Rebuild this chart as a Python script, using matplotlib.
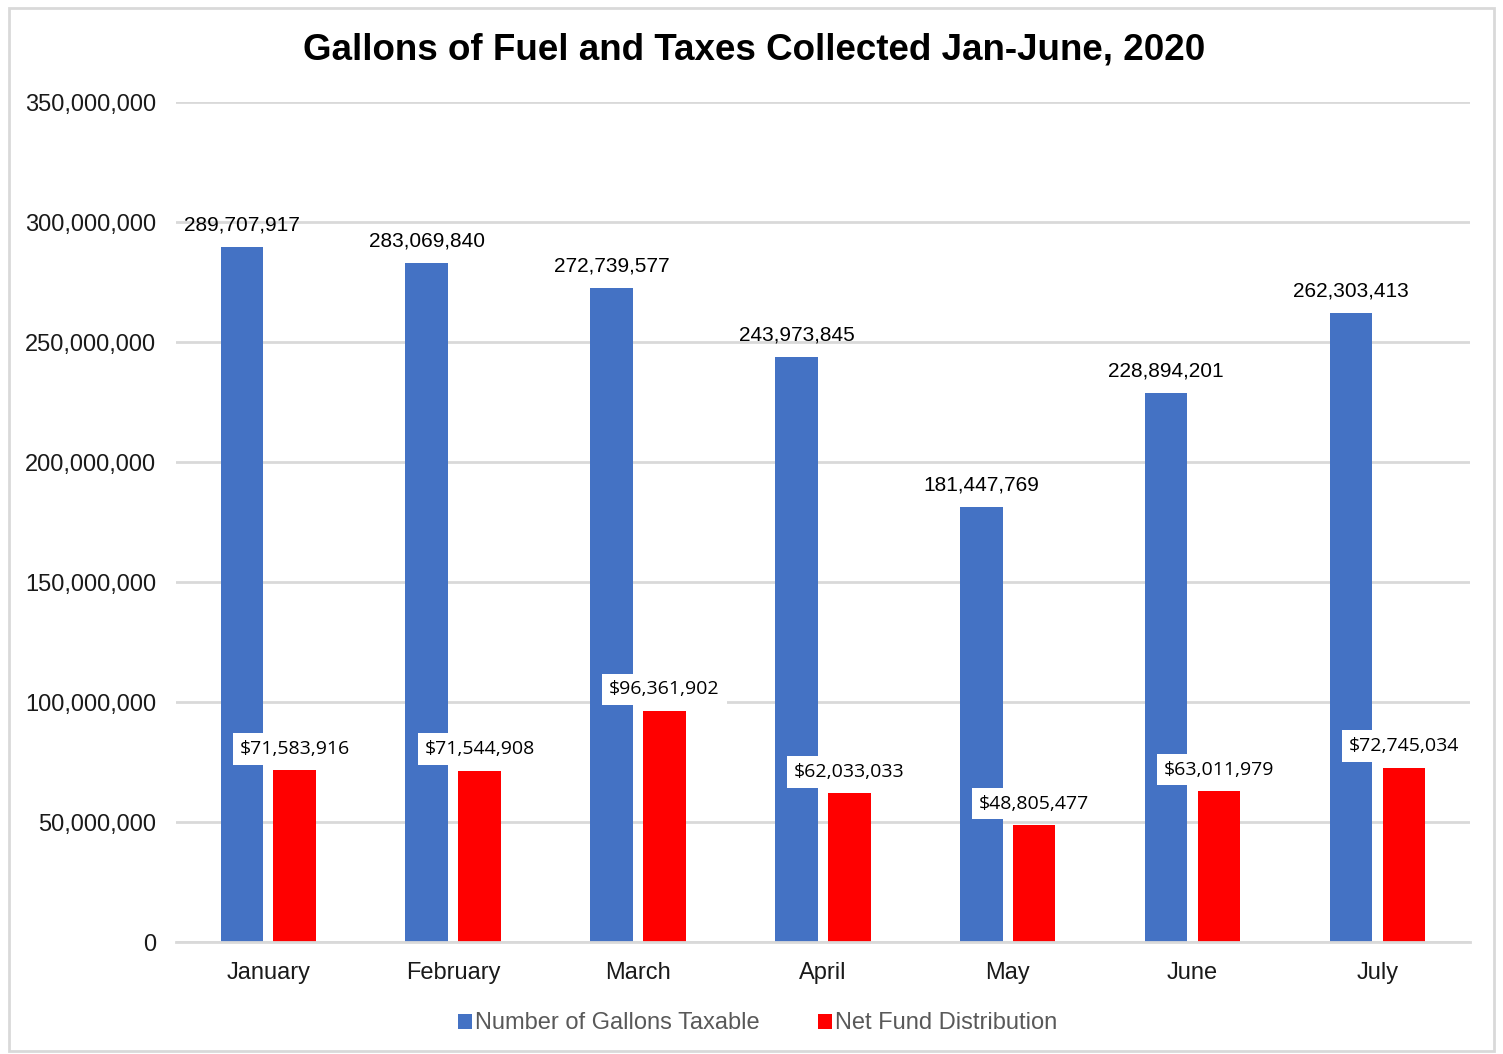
import matplotlib.pyplot as plt
import numpy as np
from matplotlib.patches import Rectangle

months = ["January", "February", "March", "April", "May", "June", "July"]
gallons = [289707917, 283069840, 272739577, 243973845, 181447769, 228894201, 262303413]
net_fund = [71583916, 71544908, 96361902, 62033033, 48805477, 63011979, 72745034]

blue = "#4472c4"
red = "#ff0000"

plt.rcParams['font.family'] = ['Liberation Sans', 'DejaVu Sans']

fig = plt.figure(figsize=(15.03, 10.54), dpi=100)
ax = fig.add_axes([0.117, 0.106, 0.861, 0.797])

x = np.arange(len(months))
w = 0.23
off = 0.143
ax.bar(x - off, gallons, w, color=blue, label="Number of Gallons Taxable", zorder=2)
ax.bar(x + off, net_fund, w, color=red, label="Net Fund Distribution", zorder=2)

for i in range(len(months)):
    ax.annotate(f"{gallons[i]:,}", (x[i] - off, gallons[i]), xytext=(0, 9),
                textcoords="offset points", ha="center", va="bottom",
                fontsize=15, color="black", zorder=4)
    ax.annotate(f"${net_fund[i]:,}", (x[i] + off, net_fund[i]), xytext=(0, 9),
                textcoords="offset points", ha="center", va="bottom",
                fontsize=14, color="black", family=["Open Sans", "DejaVu Sans"],
                bbox=dict(boxstyle="square,pad=0.35", fc="white", ec="none"), zorder=4)

ax.set_xlim(-0.5, 6.5)
ax.set_ylim(0, 350000000)
ax.set_yticks(np.arange(0, 350000001, 50000000))
ax.yaxis.set_major_formatter(plt.FuncFormatter(lambda v, p: f"{int(v):,}"))
ax.set_xticks(x)
ax.set_xticklabels(months)
ax.tick_params(axis="both", length=0, labelsize=17, colors="#1a1a1a")
ax.tick_params(axis="x", pad=14)
ax.tick_params(axis="y", pad=14)
ax.grid(axis="y", color="#d9d9d9", linewidth=2, zorder=0)
for s in ["top", "right", "left"]:
    ax.spines[s].set_visible(False)
ax.spines["bottom"].set_color("#d9d9d9")
ax.spines["bottom"].set_linewidth(2)

fig.text(0.502, 0.953, "Gallons of Fuel and Taxes Collected Jan-June, 2020",
         ha="center", va="center", fontsize=26.5, fontweight="bold")

leg = fig.legend(loc="center", bbox_to_anchor=(0.504, 0.029), ncol=2, frameon=False,
                 fontsize=17, handlelength=0.6, handleheight=0.6, handletextpad=0.1,
                 columnspacing=2.5, labelcolor="#595959")

fig.add_artist(Rectangle((0.006, 0.003), 0.988, 0.989, transform=fig.transFigure,
                         fill=False, ec="#d9d9d9", lw=2))

fig.savefig("out.png", dpi=100)
